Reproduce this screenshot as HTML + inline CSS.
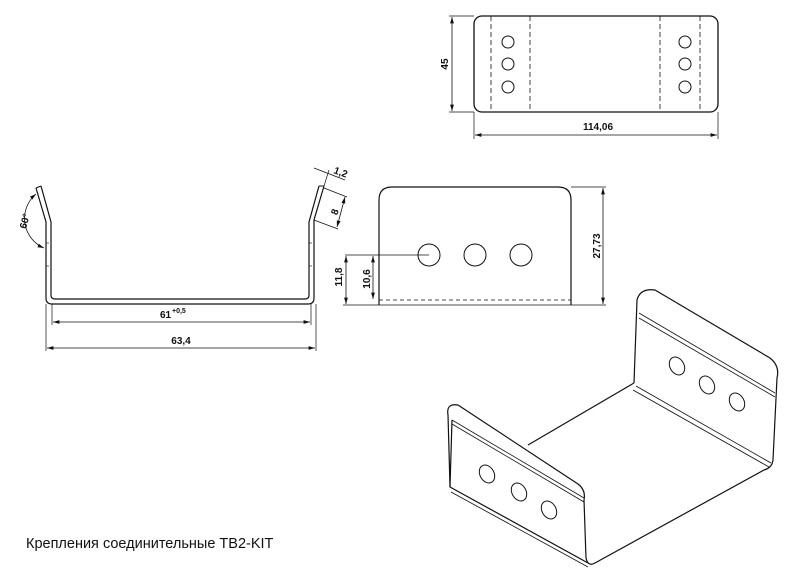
<!DOCTYPE html>
<html><head><meta charset="utf-8"><style>
html,body{margin:0;padding:0;background:#fff;}
svg{display:block;}
text{font-family:"Liberation Sans",sans-serif;fill:#111;}
</style></head><body>
<svg width="785" height="574" viewBox="0 0 785 574" xmlns="http://www.w3.org/2000/svg">
<defs>
<marker id="a" viewBox="0 0 10 6" refX="10" refY="3" markerWidth="8" markerHeight="5" orient="auto-start-reverse"><path d="M0,0L10,3L0,6z" fill="#111"/></marker>
</defs>
<g fill="none" stroke="#111" stroke-width="1">
<!-- Top view -->
<rect x="474" y="16" width="244" height="96" rx="8" stroke-width="1.3"/>
<g stroke-dasharray="5,3" stroke-width="0.8">
<line x1="491" y1="16" x2="491" y2="112"/><line x1="530" y1="16" x2="530" y2="112"/>
<line x1="660" y1="16" x2="660" y2="112"/><line x1="700" y1="16" x2="700" y2="112"/>
</g>
<circle cx="508" cy="42" r="6"/><circle cx="508" cy="64" r="6"/><circle cx="508" cy="87" r="6"/>
<circle cx="685" cy="42" r="6"/><circle cx="685" cy="64" r="6"/><circle cx="685" cy="87" r="6"/>
<line x1="449" y1="16" x2="474" y2="16" stroke-width="0.7"/><line x1="449" y1="112" x2="474" y2="112" stroke-width="0.7"/>
<line x1="452" y1="17" x2="452" y2="111" marker-start="url(#a)" marker-end="url(#a)" stroke-width="0.8"/>
<line x1="474" y1="112" x2="474" y2="139" stroke-width="0.7"/><line x1="718" y1="112" x2="718" y2="139" stroke-width="0.7"/>
<line x1="475" y1="135" x2="717" y2="135" marker-start="url(#a)" marker-end="url(#a)" stroke-width="0.8"/>

<!-- Profile -->
<path d="M36,188 L46,222 L46,298 Q46,304 52,304 L308,304 Q314,304 314,298 L314,220 L324,186" stroke-width="1.2"/>
<path d="M41,186 L51,222 L51,295 Q51,299 55,299 L305,299 Q309,299 309,295 L309,222 L319,186" stroke-width="1.2"/>
<line x1="36" y1="188" x2="41" y2="186"/><line x1="324" y1="186" x2="319" y2="186"/>
<g stroke-dasharray="3,3" stroke-width="0.6"><line x1="46" y1="243" x2="51" y2="243"/><line x1="46" y1="266" x2="51" y2="266"/><line x1="309" y1="243" x2="314" y2="243"/><line x1="309" y1="266" x2="314" y2="266"/></g>
<line x1="52" y1="304" x2="52" y2="325" stroke-width="0.7"/><line x1="311" y1="304" x2="311" y2="325" stroke-width="0.7"/>
<line x1="53" y1="322" x2="310" y2="322" marker-start="url(#a)" marker-end="url(#a)" stroke-width="0.8"/>
<line x1="46" y1="304" x2="46" y2="351" stroke-width="0.7"/><line x1="316" y1="304" x2="316" y2="351" stroke-width="0.7"/>
<line x1="47" y1="348" x2="315" y2="348" marker-start="url(#a)" marker-end="url(#a)" stroke-width="0.8"/>
<path d="M36,194 A32,32 0 0 0 44,248" marker-start="url(#a)" marker-end="url(#a)" stroke-width="0.8"/>
<line x1="314" y1="168" x2="345" y2="180" stroke-width="0.7"/><line x1="324" y1="186" x2="329" y2="170" stroke-width="0.7"/>
<line x1="324" y1="188" x2="347" y2="197" stroke-width="0.7"/><line x1="314" y1="220" x2="338" y2="229" stroke-width="0.7"/>
<line x1="345" y1="197" x2="337" y2="227" marker-start="url(#a)" marker-end="url(#a)" stroke-width="0.8"/>

<!-- Front view -->
<path d="M379,305 L379,200 Q379,187 392,187 L558,187 Q571,187 571,200 L571,305" stroke-width="1.2"/>
<line x1="379" y1="305" x2="571" y2="305" stroke-width="0.8"/>
<line x1="379" y1="300" x2="571" y2="300" stroke-dasharray="4,3" stroke-width="0.8"/>
<circle cx="429" cy="255" r="11"/><circle cx="475" cy="255" r="11"/><circle cx="521" cy="255" r="11"/>
<line x1="345" y1="255" x2="429" y2="255" stroke-width="0.8"/>
<line x1="343" y1="305" x2="379" y2="305" stroke-width="0.7"/>
<line x1="373" y1="256" x2="373" y2="299" marker-start="url(#a)" marker-end="url(#a)" stroke-width="0.8"/>
<line x1="346" y1="256" x2="346" y2="304" marker-start="url(#a)" marker-end="url(#a)" stroke-width="0.8"/>
<line x1="571" y1="187" x2="606" y2="187" stroke-width="0.7"/><line x1="571" y1="305" x2="606" y2="305" stroke-width="0.7"/>
<line x1="603" y1="188" x2="603" y2="304" marker-start="url(#a)" marker-end="url(#a)" stroke-width="0.8"/>

<!-- Isometric -->
<g stroke-width="1.2" stroke-linejoin="round">
<path d="M634,383 L637,300 Q640,288 655,290 L770,358 Q780,366 777,378 L773,460"/>
<path d="M773,460 Q772,468 764,470 L595,563 Q588,567 586,558 L584,500"/>
<path d="M634,383 L528,445"/>
<path d="M584,500 Q586,490 578,484 L458,405 Q446,403 448,415 L450,487 L588,563"/>
<path d="M450,487 L452,420"/>
</g>
<g stroke-width="0.8">
<line x1="639" y1="313" x2="775" y2="393"/><line x1="639" y1="318" x2="775" y2="397"/>
<line x1="452" y1="420" x2="584" y2="498"/><line x1="452" y1="424" x2="584" y2="502"/>
<line x1="636" y1="386" x2="771" y2="463"/><line x1="633" y1="390" x2="769" y2="467"/>
<line x1="451" y1="492" x2="588" y2="567"/>
</g>
<g stroke-width="1">
<ellipse cx="677" cy="366" rx="7" ry="9.5" transform="rotate(-30 677 366)"/>
<ellipse cx="707" cy="385" rx="7" ry="9.5" transform="rotate(-30 707 385)"/>
<ellipse cx="737" cy="402" rx="7" ry="9.5" transform="rotate(-30 737 402)"/>
<ellipse cx="487" cy="474" rx="7" ry="9.5" transform="rotate(-30 487 474)"/>
<ellipse cx="519" cy="492" rx="7" ry="9.5" transform="rotate(-30 519 492)"/>
<ellipse cx="549" cy="510" rx="7" ry="9.5" transform="rotate(-30 549 510)"/>
</g>
</g>
<g font-size="10" font-weight="bold">
<text x="598" y="130" text-anchor="middle">114,06</text>
<text transform="translate(448,64) rotate(-90)" text-anchor="middle">45</text>
<text x="160" y="318">61</text><text x="172" y="313" font-size="7">+0,5</text>
<text x="181" y="344" text-anchor="middle">63,4</text>
<text transform="translate(28,222) rotate(-75)" text-anchor="middle">60°</text>
<text transform="translate(333,173) rotate(20)">1,2</text>
<text transform="translate(338,213) rotate(-70)" text-anchor="middle">8</text>
<text transform="translate(342,277) rotate(-90)" text-anchor="middle">11,8</text>
<text transform="translate(370,279) rotate(-90)" text-anchor="middle">10,6</text>
<text transform="translate(600,246) rotate(-90)" text-anchor="middle">27,73</text>
</g>
<text x="26" y="548" font-size="14.5">Крепления соединительные TB2-KIT</text>
</svg>
</body></html>
